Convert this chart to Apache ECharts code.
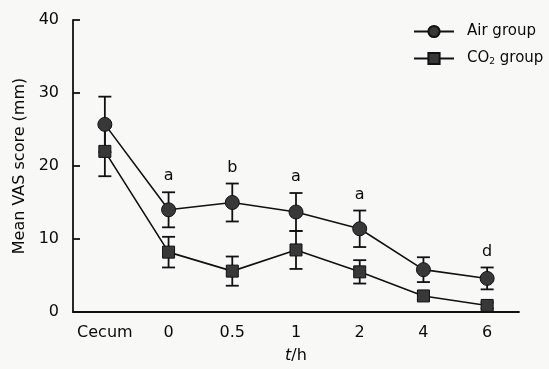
<!DOCTYPE html>
<html><head><meta charset="utf-8">
<script src="https://cdn.jsdelivr.net/npm/echarts@6/dist/echarts.min.js"></script>
<style>html,body{margin:0;padding:0;background:#f8f8f7}#c{width:549px;height:369px}</style>
</head><body><div id="c"></div>
<script>
const categories = ['Cecum','0','0.5','1','2','4','6'];
const airMean = [25.7, 14.0, 15.0, 13.7, 11.4, 5.8, 4.6];
const airErr  = [3.8, 2.4, 2.6, 2.6, 2.5, 1.7, 1.5];
const co2Mean = [22.0, 8.2, 5.6, 8.5, 5.5, 2.2, 0.9];
const co2Err  = [3.4, 2.1, 2.0, 2.6, 1.6, 0.5, 0.4];
const airLetters = ['', 'a', 'b', 'a', 'a', '', 'd'];
const yTicks = [0, 10, 20, 30, 40];

const FONT = 'DejaVu Sans';
const FS = 16;
const LFS = 15;
const TXT = '#0a0a0a';
const chart = echarts.init(document.getElementById('c'));

function errSeries(mean, err, letters) {
  return {
    type: 'custom',
    z: 1,
    data: mean.map((m, i) => [i, m - err[i], m + err[i], letters ? letters[i] : '']),
    renderItem: function (params, api) {
      const x = api.value(0);
      const lo = api.coord([x, api.value(1)]);
      const hi = api.coord([x, api.value(2)]);
      const w = 6.5;
      const st = { stroke: '#111', lineWidth: 1.8 };
      const children = [
        { type: 'line', shape: { x1: lo[0], y1: lo[1], x2: hi[0], y2: hi[1] }, style: st },
        { type: 'line', shape: { x1: lo[0] - w, y1: lo[1], x2: lo[0] + w, y2: lo[1] }, style: st },
        { type: 'line', shape: { x1: hi[0] - w, y1: hi[1], x2: hi[0] + w, y2: hi[1] }, style: st }
      ];
      const t = api.value(3);
      if (t) {
        children.push({ type: 'text', style: { text: t, x: hi[0], y: hi[1] - 16, align: 'center', verticalAlign: 'middle', font: FS + 'px "' + FONT + '"', fill: TXT } });
      }
      return { type: 'group', children: children };
    }
  };
}

chart.setOption({
  backgroundColor: '#f8f8f7',
  animation: false,
  textStyle: { fontFamily: FONT },
  grid: { left: 73, right: 30, top: 20, bottom: 56 },
  legend: {
    orient: 'vertical',
    left: 413,
    top: 24,
    padding: 0,
    itemWidth: 40,
    itemHeight: 14,
    itemGap: 12,
    textStyle: { fontFamily: FONT, fontSize: LFS, color: TXT, padding: [0, 0, 0, 8], rich: { sub: { fontSize: 9, verticalAlign: 'bottom', padding: [6, 0, 0, 0], fontFamily: FONT, color: TXT }, n: { fontSize: LFS, fontFamily: FONT, color: TXT } } },
    formatter: function (name) { return name === 'CO2 group' ? '{n|CO}{sub|2}{n| group}' : name; },
    data: ['Air group', 'CO2 group']
  },
  xAxis: {
    type: 'category',
    data: categories,
    boundaryGap: true,
    name: '{i|t}{n|/h}',
    nameLocation: 'middle',
    nameGap: 36,
    nameTextStyle: { rich: { i: { fontStyle: 'italic', fontSize: FS, fontFamily: FONT, color: TXT }, n: { fontSize: FS, fontFamily: FONT, color: TXT } } },
    axisLine: { lineStyle: { color: '#111', width: 1.8 } },
    axisTick: { inside: true, alignWithLabel: true, interval: 0, length: 7, lineStyle: { color: '#111', width: 1.8 } },
    axisLabel: { interval: 0, fontSize: FS, color: TXT, margin: 13, fontFamily: FONT }
  },
  yAxis: {
    type: 'value',
    min: 0, max: 40, interval: 10,
    name: 'Mean VAS score (mm)',
    nameLocation: 'middle',
    nameGap: 43,
    nameRotate: 90,
    nameTextStyle: { fontSize: FS, color: TXT, fontFamily: FONT },
    axisLine: { show: true, lineStyle: { color: '#111', width: 1.8 } },
    axisTick: { show: true, inside: true, length: 7, lineStyle: { color: '#111', width: 1.8 } },
    splitLine: { show: false },
    axisLabel: { fontSize: FS, color: TXT, margin: 14, fontFamily: FONT, formatter: v => yTicks.includes(v) ? String(v) : '' }
  },
  series: [
    errSeries(airMean, airErr, airLetters),
    errSeries(co2Mean, co2Err, null),
    {
      name: 'Air group', type: 'line', data: airMean, z: 3,
      symbol: 'circle', symbolSize: 14,
      lineStyle: { color: '#111', width: 1.6 },
      itemStyle: { color: '#383838', borderColor: '#111', borderWidth: 1 }
    },
    {
      name: 'CO2 group', type: 'line', data: co2Mean, z: 3,
      symbol: 'rect', symbolSize: 12,
      lineStyle: { color: '#111', width: 1.6 },
      itemStyle: { color: '#383838', borderColor: '#111', borderWidth: 1 }
    }
  ]
});
</script></body></html>
